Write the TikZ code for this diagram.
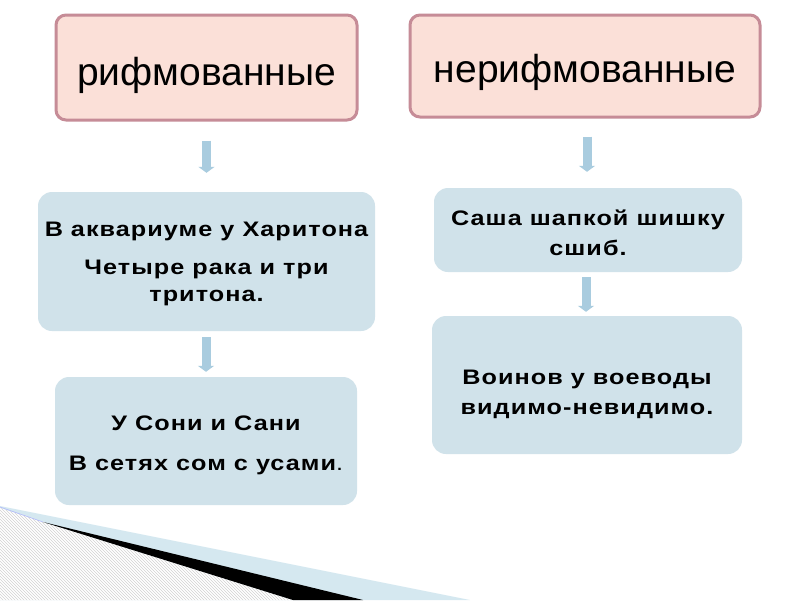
\documentclass[tikz,border=0pt]{standalone}
\usepackage{fontspec}
\setmainfont{Liberation Sans}
\newfontfamily\bodyfont[FakeStretch=1.2,LetterSpace=5]{Liberation Sans}
\usetikzlibrary{patterns,arrows.meta}
\definecolor{pinkfill}{HTML}{FBE0D8}
\definecolor{pinkline}{HTML}{C68C97}
\definecolor{bluefill}{HTML}{D0E2EA}
\definecolor{arrowblue}{HTML}{A9CCDF}
\definecolor{decoblue}{HTML}{D5E8F0}
\tikzset{
  headbox/.style={draw=pinkline, line width=3pt, fill=pinkfill, rounded corners=10pt,
    font=\fontsize{39}{44}\selectfont, inner sep=0pt, text depth=0pt},
  textbox/.style={fill=bluefill, rounded corners=14pt, inner sep=0pt},
  bodytext/.style={inner sep=0pt, align=center, font=\bodyfont\bfseries\fontsize{21}{27}\selectfont},
  barrow/.style={draw=arrowblue, line width=9pt, -{Triangle[width=16pt,length=6pt]}}
}
\begin{document}
\begin{tikzpicture}[x=1pt,y=-1pt]
\useasboundingbox (0,0) rectangle (800,600);
\fill[white] (0,0) rectangle (800,600);
% decoration bottom-left
\fill[decoblue] (0,506) -- (470,600) -- (0,600) -- cycle;
\fill[white] (0,508) -- (43,522) -- (293,600) -- (0,600) -- cycle;
\fill[pattern=north west lines, pattern color=gray!35] (0,508) -- (43,522) -- (293,600) -- (0,600) -- cycle;
\draw[decoblue!60!blue!60, line width=0.6pt] (0,507) -- (43,522);
\fill[black] (43,522) -- (363,600) -- (293,600) -- cycle;
% header boxes
\node[headbox, minimum width=301pt, minimum height=105pt, text height=35pt] (t1) at (206.5,67.5) {рифмованные};
\node[headbox, minimum width=350pt, minimum height=102pt, text height=32pt] (t2) at (585,66) {нерифмованные};
% text boxes
\node[textbox, minimum width=337pt, minimum height=139pt] (l1) at (206.5,261.5) {};
\node[textbox, minimum width=302pt, minimum height=128pt] (l2) at (206,441) {};
\node[textbox, minimum width=308pt, minimum height=84pt] (r1) at (588,230) {};
\node[textbox, minimum width=310pt, minimum height=138pt] (r2) at (587,385) {};
\node[bodytext] (l1t) at ([yshift=-2pt]l1.center)
  {В аквариуме у Харитона\\[11pt]Четыре рака и три\\тритона.};
\node[bodytext] (l2t) at ([yshift=-4.5pt]l2.center)
  {У Сони и Сани\\[13pt]В сетях сом с усами{\mdseries .}};
\node[bodytext, font=\bodyfont\bfseries\fontsize{21}{30}\selectfont] (r1t) at ([yshift=-3pt]r1.center)
  {Саша шапкой шишку\\сшиб.};
\node[bodytext, font=\bodyfont\bfseries\fontsize{21}{30}\selectfont] (r2t) at ([yshift=-9pt]r2.center)
  {Воинов у воеводы\\видимо-невидимо.};
% arrows
\draw[barrow, shorten <=19pt, shorten >=19pt] (l1.north |- t1.south) -- (l1.north);
\draw[barrow, shorten <=6pt, shorten >=5pt] (l2.north |- l1.south) -- (l2.north);
\draw[barrow, shorten <=18pt, shorten >=16pt] ([xshift=-1pt]r1.north |- t2.south) -- ([xshift=-1pt]r1.north);
\draw[barrow, shorten <=5pt, shorten >=4pt] ([xshift=-1pt]r2.north |- r1.south) -- ([xshift=-1pt]r2.north);
\end{tikzpicture}
\end{document}
